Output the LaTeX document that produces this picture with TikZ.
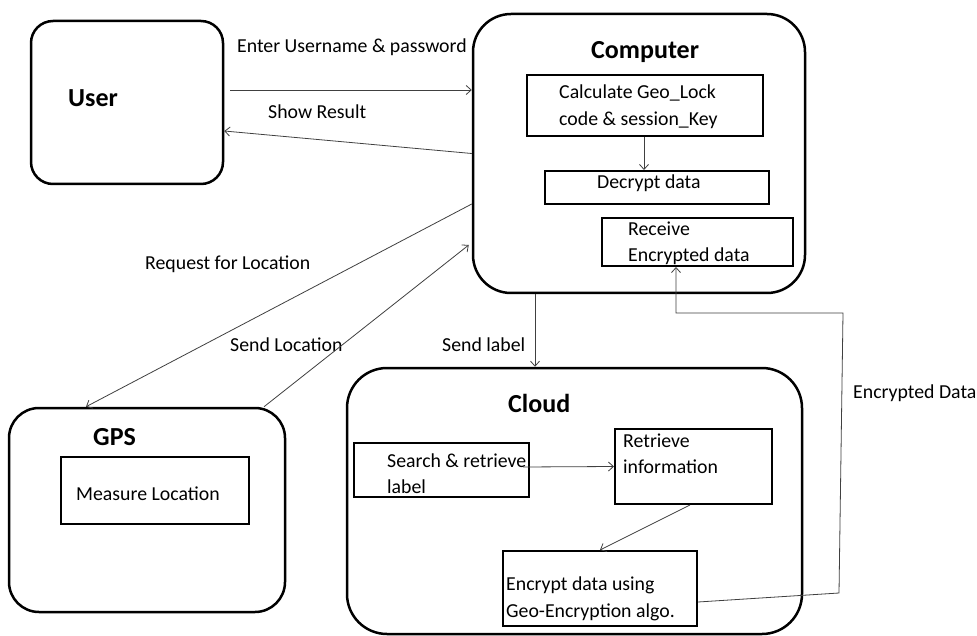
\documentclass[tikz,border=0pt]{standalone}
\usepackage{fontspec}
\setmainfont{Carlito}
\usetikzlibrary{arrows.meta,calc}
\begin{document}
\begin{tikzpicture}[x=1pt,y=-1pt,
  outerbox/.style={draw=black,line width=2.5pt,rounded corners=#1,inner sep=0pt},
  innerbox/.style={draw=black,line width=2pt,inner sep=0pt},
  txt/.style={anchor=base west,inner sep=0pt,font=\fontsize{19.8}{23}\selectfont},
  ttl/.style={anchor=base west,inner sep=0pt,font=\fontsize{26}{30}\selectfont\bfseries},
  conn/.style={draw=black!75,line width=0.8pt,-{Straight Barb[length=5pt,width=9pt]}},
  plain/.style={draw=black!75,line width=0.8pt}]
\useasboundingbox (0,0) rectangle (977,636);
\fill[white] (0,0) rectangle (977,636);

% outer boxes
\node[outerbox=22pt,minimum width=192pt,minimum height=163pt] (user) at (127,102.5) {};
\node[outerbox=38pt,minimum width=332pt,minimum height=279pt] (comp) at (639,153.5) {};
\node[outerbox=30pt,minimum width=276pt,minimum height=204pt] (gps) at (147,510) {};
\node[outerbox=40pt,minimum width=455pt,minimum height=266pt] (cloud) at (574.5,501) {};

% inner boxes
\node[innerbox,minimum width=236pt,minimum height=61pt] (calc) at (645,105.5) {};
\node[innerbox,minimum width=224pt,minimum height=33pt] (decr) at (657,187.5) {};
\node[innerbox,minimum width=191pt,minimum height=48pt] (recv) at (697.5,242) {};
\node[innerbox,minimum width=188pt,minimum height=67pt] (meas) at (155,490.5) {};
\node[innerbox,minimum width=175pt,minimum height=54pt] (search) at (441.5,470) {};
\node[innerbox,minimum width=157pt,minimum height=75pt] (retr) at (693.5,466.5) {};
\node[innerbox,minimum width=194pt,minimum height=75pt] (encr) at (600,588.5) {};

% titles
\node[ttl] (tuser) at (68,107) {User};
\node[ttl] (tcomp) at (591,59) {Computer};
\node[ttl] (tgps) at (93,445) {GPS};
\node[ttl] (tcloud) at (508,412) {Cloud};

% box texts
\node[txt] (tcalc1) at (559,99) {Calculate Geo\_Lock};
\node[txt] (tcalc2) at (559,126) {code \& session\_Key};
\node[txt] (tdecr) at (597,189) {Decrypt data};
\node[txt] (trecv1) at (628,236) {Receive};
\node[txt] (trecv2) at (628,262) {Encrypted data};
\node[txt] (tmeas) at (76,500) {Measure Location};
\node[txt] (tsearch1) at (387,467) {Search \& retrieve};
\node[txt] (tsearch2) at (387,493) {label};
\node[txt] (tretr1) at (623,447) {Retrieve};
\node[txt] (tretr2) at (623,473) {information};
\node[txt] (tencr1) at (506,590) {Encrypt data using};
\node[txt] (tencr2) at (506,617) {Geo-Encryption algo.};

% connector labels
\node[txt] (lenter) at (237,53) {Enter Username \& password};
\node[txt] (lshow) at (268,119) {Show Result};
\node[txt] (lreq) at (145,270) {Request for Location};
\node[txt] (lsend) at (230,351) {Send Location};
\node[txt] (llabel) at (442,351) {Send label};
\node[txt] (lencd) at (853,398) {Encrypted Data};

% connectors
\coordinate (enterS) at (230,90);
\draw[conn] (enterS) -- (enterS -| comp.west);
\draw[conn] (comp.west) -- ([yshift=-28.5pt]user.east);
\draw[conn] ([yshift=-50.5pt]comp.west) -- ([xshift=-61pt]gps.north);
\draw[conn] ([xshift=117pt]gps.north) -- ([xshift=-3pt,yshift=-91.5pt]comp.west);
\draw[conn] ([xshift=-104pt]comp.south) -- ([xshift=-39.5pt]cloud.north);
\draw[conn] ([xshift=-1pt]calc.south) -- ([xshift=-13pt]decr.north);
\draw[conn] ([xshift=-7pt,yshift=3pt]search.east) -- (retr.west);
\draw[conn] ([xshift=-3.5pt]retr.south) -- (encr.north);
\coordinate (ed1) at (839,593);
\coordinate (ed2) at (843,313);
\draw[conn] ([yshift=-13.5pt]encr.east) -- (ed1) -- (ed2) -| ([xshift=-21.5pt]recv.south);
\end{tikzpicture}
\end{document}
